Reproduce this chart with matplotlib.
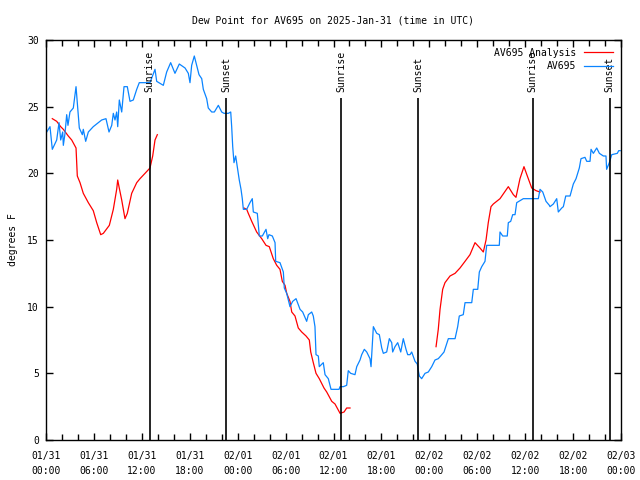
import matplotlib
matplotlib.use("Agg")
import matplotlib.pyplot as plt

# hours since 2025-01-31 00:00 UTC, dew point in degrees F
obs_hours = [0.09, 0.5, 0.79, 1.34, 1.63, 1.84, 2.09, 2.17, 2.38, 2.59, 2.75, 3.0, 3.42, 3.76, 3.97,
             4.17, 4.55, 4.67, 4.97, 5.3, 5.92, 6.97, 7.51, 7.89, 8.23, 8.43, 8.64, 8.85, 8.98, 9.18,
             9.48, 9.77, 10.18, 10.52, 10.93, 11.36, 11.68, 12.61, 13.02, 13.65, 13.86, 14.69, 15.11,
             15.61, 16.15, 16.69, 17.41, 17.82, 18.03, 18.24, 18.57, 18.87, 19.16, 19.5, 19.7, 20.12,
             20.32, 20.75, 21.08, 21.58, 22.0, 22.29, 22.83, 23.13, 23.25, 23.38, 23.54, 23.75, 23.95,
             24.2, 24.42, 24.58, 24.71, 25.13, 25.54, 25.83, 25.96, 26.46, 26.71, 27.09, 27.55, 27.76,
             27.92, 28.34, 28.68, 28.76, 29.3, 29.72, 29.84, 30.14, 30.55, 30.89, 31.31, 31.81, 32.14,
             32.64, 32.85, 33.27, 33.47, 33.68, 33.81, 34.1, 34.22, 34.72, 34.94, 35.35, 35.69, 36.69,
             36.82, 37.23, 37.65, 37.85, 38.15, 38.69, 38.91, 39.32, 39.53, 39.86, 40.16, 40.57, 40.7,
             40.99, 41.41, 41.74, 42.04, 42.24, 42.66, 42.99, 43.29, 43.41, 43.7, 44.04, 44.42, 44.74,
             45.08, 45.29, 45.58, 45.79, 46.21, 46.49, 46.62, 46.75, 47.04, 47.46, 47.87, 48.3, 48.71,
             49.12, 49.42, 49.84, 50.38, 51.22, 51.55, 51.75, 52.25, 52.47, 53.31, 53.51, 54.06, 54.26,
             54.56, 54.97, 55.18, 55.81, 56.76, 56.85, 57.19, 57.76, 57.89, 58.19, 58.44, 58.73, 58.94,
             59.77, 61.65, 61.86, 62.2, 62.61, 63.03, 63.11, 63.53, 63.95, 64.15, 64.58, 64.78, 65.08,
             65.62, 66.03, 66.37, 66.78, 66.99, 67.49, 67.71, 68.12, 68.25, 68.54, 68.96, 69.29, 69.79,
             70.12, 70.2, 70.54, 70.84, 71.54, 71.71, 71.9]
obs_dewpt = [23.1, 23.5, 21.8, 22.5, 23.8, 22.5, 23.1, 22.1, 23.0, 24.4, 23.6, 24.6, 24.9, 26.5, 24.9,
             23.4, 22.9, 23.3, 22.4, 23.1, 23.5, 24.0, 24.1, 23.1, 23.6, 24.5, 24.0, 24.6, 23.5, 25.5,
             24.6, 26.5, 26.5, 25.4, 25.5, 26.3, 26.8, 26.8, 26.8, 27.8, 26.9, 26.6, 27.6,
             28.3, 27.5, 28.2, 27.9, 27.5, 26.8, 28.1, 28.8, 28.1, 27.4, 27.1, 26.3, 25.6,
             24.9, 24.6, 24.6, 25.1, 24.6, 24.5, 24.5, 24.6, 23.5, 22.0, 20.8, 21.3, 20.5,
             19.5, 18.8, 18.1, 17.3, 17.3, 17.8, 18.1, 17.1, 17.0, 15.3, 15.3, 15.8, 15.1,
             15.4, 15.3, 14.8, 13.4, 13.3, 12.6, 11.4, 11.0, 10.0, 10.4, 10.6, 9.8, 9.6,
             8.9, 9.4, 9.6, 9.3, 8.5, 6.4, 6.3, 5.5, 5.8, 4.9, 4.6, 3.8, 3.8,
             4.0, 4.0, 4.1, 5.2, 5.0, 4.9, 5.5, 6.0, 6.4, 6.8, 6.6, 6.1, 5.5,
             8.5, 8.0, 7.9, 6.9, 6.5, 6.6, 7.6, 7.3, 6.6, 7.0, 7.3, 6.6, 7.6,
             6.8, 6.4, 6.4, 6.6, 5.9, 5.7, 5.2, 4.8, 4.6, 5.0, 5.1, 5.5, 6.0,
             6.1, 6.3, 6.6, 7.6, 7.6, 8.5, 9.3, 9.4, 10.3, 10.3, 11.3, 11.3, 12.6,
             13.0, 13.4, 14.6, 14.6, 14.6, 15.6, 15.3, 15.3, 16.3, 16.4, 16.9, 16.9, 17.8,
             18.1, 18.1, 18.8, 18.6, 17.9, 17.6, 17.5, 17.7, 18.1, 17.1, 17.4, 17.5, 18.3,
             18.3, 19.2, 19.6, 20.4, 21.1, 21.2, 20.9, 20.9, 21.8, 21.5, 21.9, 21.5, 21.3,
             21.3, 20.3, 20.8, 21.4, 21.5, 21.7, 21.7]

# analysis series comes in three pieces
ana1_hours = [0.79, 1.34, 1.84, 2.17, 2.79, 3.22, 3.76, 3.92, 4.26, 4.67, 5.3, 5.92, 6.35, 6.85, 7.18,
              7.93, 8.43, 8.85, 8.98, 9.14, 9.48, 9.89, 10.18, 10.73, 11.36, 11.77, 12.4, 13.02,
              13.36, 13.65, 13.94]
ana1_dewpt = [24.1, 23.9, 23.5, 23.3, 22.8, 22.5, 21.9, 19.8, 19.3, 18.5, 17.8, 17.2, 16.3, 15.4, 15.5,
              16.1, 17.3, 18.8, 19.5, 19.0, 18.0, 16.6, 17.0, 18.5, 19.3, 19.6, 20.0, 20.4,
              21.3, 22.5, 22.9]
ana2_hours = [24.79, 25.13, 25.33, 25.76, 26.38, 27.01, 27.55, 27.96, 28.46, 28.89, 29.3, 29.59, 29.93,
              30.14, 30.55, 30.77, 31.18, 31.59, 32.02, 32.56, 32.97, 33.15, 33.47, 33.81, 34.22,
              34.81, 35.15, 35.78, 36.19, 36.82, 37.32, 37.65, 38.07]
ana2_dewpt = [17.4, 17.3, 17.0, 16.4, 15.6, 15.1, 14.6, 14.5, 13.6, 13.1, 12.8, 11.9, 11.6,
              11.0, 10.4, 9.6, 9.3, 8.4, 8.1, 7.8, 7.5, 6.6, 5.8, 5.0, 4.6,
              3.9, 3.6, 2.9, 2.7, 2.0, 2.1, 2.4, 2.4]
ana3_hours = [48.84, 49.12, 49.34, 49.67, 49.96, 50.59, 51.22, 51.84, 52.47, 53.09, 53.72, 54.34, 54.76,
              55.1, 55.38, 55.72, 56.01, 56.85, 57.89, 58.52, 58.85, 59.35, 59.85, 60.27, 60.82,
              61.36, 61.86]
ana3_dewpt = [7.0, 8.3, 9.8, 11.3, 11.8, 12.3, 12.5, 12.9, 13.4, 13.9, 14.8, 14.4, 14.1,
              15.0, 16.3, 17.5, 17.7, 18.1, 19.0, 18.4, 18.2, 19.6, 20.5, 19.8, 18.9,
              18.7, 18.6]

event_hours = [13.0, 22.55, 36.95, 46.6, 60.95, 70.6]
event_names = ["Sunrise", "Sunset", "Sunrise", "Sunset", "Sunrise", "Sunset"]

tick_hours = list(range(0, 73, 6))
tick_labels = ["01/31\n00:00", "01/31\n06:00", "01/31\n12:00", "01/31\n18:00",
               "02/01\n00:00", "02/01\n06:00", "02/01\n12:00", "02/01\n18:00",
               "02/02\n00:00", "02/02\n06:00", "02/02\n12:00", "02/02\n18:00",
               "02/03\n00:00"]

plt.rcParams["font.family"] = "DejaVu Sans Mono"
plt.rcParams["font.size"] = 7

fig = plt.figure(figsize=(6.4, 4.8), dpi=100)
ax = fig.add_axes([46 / 640, 40 / 480, 575 / 640, 400 / 480])

red = "#ff0000"
blue = "#0a84ff"
ax.plot(ana1_hours, ana1_dewpt, color=red, lw=0.9, label="AV695 Analysis")
ax.plot(ana2_hours, ana2_dewpt, color=red, lw=0.9)
ax.plot(ana3_hours, ana3_dewpt, color=red, lw=0.9)
ax.plot(obs_hours, obs_dewpt, color=blue, lw=0.9, label="AV695")

ax.vlines(event_hours, 0, 25.65, color="black", lw=1.2)
for h, name in zip(event_hours, event_names):
    ax.text(h, 26.1, name, rotation=90, ha="center", va="bottom", fontsize=7)

ax.set_xlim(0, 72)
ax.set_ylim(0, 30)
ax.set_xticks(tick_hours)
ax.set_xticklabels(tick_labels, linespacing=1.65)
ax.set_xticks(range(0, 73, 2), minor=True)
ax.set_yticks(range(0, 31, 5))
ax.tick_params(which="both", direction="in", top=True, right=True, length=5, width=1)
ax.tick_params(which="minor", length=4)
ax.tick_params(axis="x", pad=8)
ax.tick_params(axis="y", pad=5)
for s in ax.spines.values():
    s.set_linewidth(1)

ax.set_title("Dew Point for AV695 on 2025-Jan-31 (time in UTC)", fontsize=7, pad=12)
ax.set_ylabel("degrees F", labelpad=7)

ax.legend(loc="upper right", frameon=False, markerfirst=False, handlelength=3.0,
          borderaxespad=0.4, labelspacing=0.35, fontsize=7)

fig.savefig("out.png", dpi=100)
